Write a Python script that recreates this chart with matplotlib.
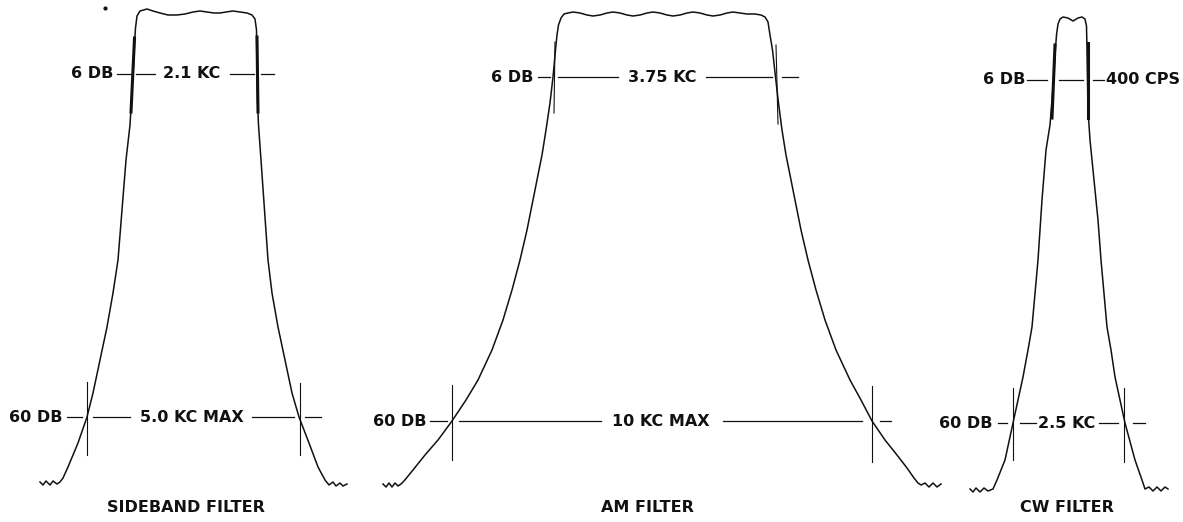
import matplotlib
matplotlib.use("Agg")
import matplotlib.pyplot as plt

# response curves (x across, y down; drawing units)
sb_x = [40, 43, 46, 50, 53, 57, 60, 63, 68, 78, 87, 93, 100, 107, 113, 118, 122, 126,
        130, 131.5, 133, 134.5, 135.5, 137, 140, 147, 153, 160, 168, 177, 185, 193, 200, 207,
        214, 220, 226, 233, 240, 247, 252, 255, 256.5, 257, 257.5, 258.5, 261, 264.5, 268,
        272, 278, 285, 292, 299, 309, 318, 325, 329, 333, 336, 340, 343, 347]
sb_y = [482, 485, 481, 485, 481, 484, 482, 478, 467, 443, 417, 393, 360, 327, 293, 260, 210, 160,
        125, 100, 74, 45, 28, 16, 11, 9, 11, 13, 15, 15, 14, 12, 11, 12,
        13, 13, 12, 11, 12, 13, 15, 19, 30, 74, 100, 125, 160, 210, 260,
        293, 327, 360, 393, 417, 443, 467, 480, 485, 482, 486, 483, 486, 484]

am_x = [383, 386, 389, 392, 395, 398, 401, 404, 413, 425, 438, 452, 466, 478, 492, 503, 512,
        520, 527, 532, 537, 542, 546, 550, 553, 555.5, 557, 558.5, 561, 564, 568, 573, 580, 587,
        593, 600, 607, 613, 620, 627, 633, 640, 647, 653, 660, 667, 673, 680, 687, 693, 700,
        707, 713, 720, 727, 733, 740, 747, 755, 761, 765, 768, 770, 772.5, 775.5, 778.5, 782,
        786, 791, 796, 801, 808, 816, 825, 836, 850, 861, 872, 885, 897, 907, 914, 918, 921,
        925, 929, 933, 937, 941]
am_y = [484, 487, 483, 487, 483, 486, 484, 481, 470, 455, 440, 421, 400, 380, 350, 320, 290,
        260, 230, 205, 180, 155, 130, 103, 77, 50, 35, 25, 18, 14, 13, 12, 13, 15,
        16, 15, 13, 12, 13, 15, 16, 15, 13, 12, 13, 15, 16, 15, 13, 12, 13,
        15, 16, 15, 13, 12, 13, 14, 14, 15, 17, 22, 35, 50, 77, 103, 130,
        155, 180, 205, 230, 260, 290, 320, 350, 380, 400, 421, 440, 455, 468, 478, 483, 485,
        483, 487, 483, 487, 484]

cw_x = [970, 973, 976, 980, 984, 988, 993, 997, 1005, 1013, 1018, 1023, 1028, 1032, 1038, 1042,
        1046, 1050, 1052, 1053.5, 1055, 1056.5, 1058, 1060, 1063, 1068, 1073, 1078, 1082, 1085,
        1086.5, 1087, 1087.5, 1088, 1090, 1094, 1098, 1101, 1107, 1111, 1115, 1120, 1125, 1135,
        1142, 1145, 1149, 1153, 1157, 1161, 1165, 1168]
cw_y = [489, 492, 488, 492, 488, 491, 489, 480, 460, 423, 400, 377, 350, 327, 260, 200,
        150, 125, 100, 80, 55, 35, 24, 19, 17, 18, 21, 18, 17, 19,
        26, 50, 80, 110, 140, 180, 220, 260, 327, 350, 377, 400, 423, 460,
        480, 489, 487, 491, 487, 491, 487, 489]

titles = ["SIDEBAND FILTER", "AM FILTER", "CW FILTER"]
title_x = [186, 647, 1067]
bw6_labels = ["2.1 KC", "3.75 KC", "400 CPS"]
bw60_labels = ["5.0 KC MAX", "10 KC MAX", "2.5 KC"]

fig = plt.figure(figsize=(11.83, 5.22), dpi=100)
ax = fig.add_axes([0, 0, 1, 1])
ax.set_xlim(0, 1183)
ax.set_ylim(522, 0)
ax.axis("off")

ink = "#111111"
txt = dict(color=ink, fontsize=11.5, fontweight="bold", va="center", family="DejaVu Sans")

for xs, ys in [(sb_x, sb_y), (am_x, am_y), (cw_x, cw_y)]:
    ax.plot(xs, ys, color=ink, lw=1.1, solid_joinstyle="round")


def dim_line(y, segs):
    for a, b in segs:
        ax.plot([a, b], [y, y], color=ink, lw=0.9)


def tick(x0, y0, x1, y1, lw=0.8):
    ax.plot([x0, x1], [y0, y1], color=ink, lw=lw)


# sideband filter
ax.text(113, 74, "6 DB", ha="right", **txt)
dim_line(74, [(117, 131), (136, 155), (230, 254), (261, 274)])
ax.text(192, 74, bw6_labels[0], ha="center", **txt)
tick(134.5, 38, 131, 112, lw=2.2)
tick(257, 37, 258, 112, lw=2.2)
ax.text(63, 417, "60 DB", ha="right", **txt)
dim_line(417, [(67, 82), (93, 130), (252, 294), (305, 321)])
ax.text(192, 417, bw60_labels[0], ha="center", **txt)
tick(87, 382, 87, 455)
tick(300, 383, 300, 455)

# am filter
ax.text(533, 77, "6 DB", ha="right", **txt)
dim_line(77, [(538, 550), (558, 618), (706, 772), (782, 798)])
ax.text(662, 77, bw6_labels[1], ha="center", **txt)
tick(555, 42, 554, 113)
tick(776, 45, 778, 124)
ax.text(427, 421, "60 DB", ha="right", **txt)
dim_line(421, [(430, 447), (459, 601), (723, 862), (880, 891)])
ax.text(661, 421, bw60_labels[1], ha="center", **txt)
tick(452, 385, 452, 460)
tick(872, 386, 872, 462)

# cw filter
ax.text(1025, 80, "6 DB", ha="right", **txt)
dim_line(80, [(1027, 1047), (1059, 1083), (1093, 1104)])
ax.text(1106, 80, bw6_labels[2], ha="left", **txt)
tick(1055, 45, 1052, 118, lw=2.2)
tick(1088, 43, 1088, 118, lw=2.2)
ax.text(993, 423, "60 DB", ha="right", **txt)
dim_line(423, [(998, 1007), (1020, 1036), (1099, 1118), (1133, 1145)])
ax.text(1067, 423, bw60_labels[2], ha="center", **txt)
tick(1013, 388, 1013, 460)
tick(1124, 388, 1124, 462)

for t, x in zip(titles, title_x):
    ax.text(x, 508, t, ha="center", **txt)

ax.plot([105], [8], "o", color=ink, ms=2)

fig.savefig("out.png", dpi=100)
